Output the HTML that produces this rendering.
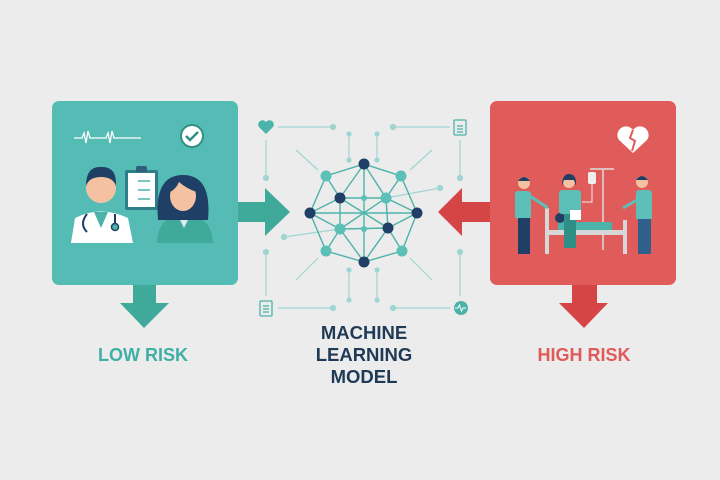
<!DOCTYPE html>
<html><head><meta charset="utf-8"><style>
html,body{margin:0;padding:0;background:#ececec;}
svg{display:block}
text{font-family:"Liberation Sans",sans-serif;font-weight:bold;}
</style></head><body>
<svg width="720" height="480" viewBox="0 0 720 480" xmlns="http://www.w3.org/2000/svg">
<rect width="720" height="480" fill="#ececec"/>
<!-- circuit lines -->
<g stroke="#9fd6d2" stroke-width="1.2" fill="#9fd6d2">
<line x1="278" y1="127" x2="333" y2="127"/><circle cx="333" cy="127" r="2.5"/>
<line x1="393" y1="127" x2="450" y2="127"/><circle cx="393" cy="127" r="2.5"/>
<line x1="349" y1="134" x2="349" y2="160"/><circle cx="349" cy="134" r="2"/><circle cx="349" cy="160" r="2"/>
<line x1="377" y1="134" x2="377" y2="160"/><circle cx="377" cy="134" r="2"/><circle cx="377" cy="160" r="2"/>
<line x1="266" y1="140" x2="266" y2="178"/><circle cx="266" cy="178" r="2.5"/>
<line x1="460" y1="140" x2="460" y2="178"/><circle cx="460" cy="178" r="2.5"/>
<line x1="266" y1="252" x2="266" y2="296"/><circle cx="266" cy="252" r="2.5"/>
<line x1="460" y1="252" x2="460" y2="296"/><circle cx="460" cy="252" r="2.5"/>
<line x1="278" y1="308" x2="333" y2="308"/><circle cx="333" cy="308" r="2.5"/>
<line x1="393" y1="308" x2="450" y2="308"/><circle cx="393" cy="308" r="2.5"/>
<line x1="349" y1="268" x2="349" y2="300"/><circle cx="349" cy="270" r="2"/><circle cx="349" cy="300" r="2"/>
<line x1="377" y1="268" x2="377" y2="300"/><circle cx="377" cy="270" r="2"/><circle cx="377" cy="300" r="2"/>
<line x1="296" y1="150" x2="318" y2="170"/><line x1="432" y1="150" x2="410" y2="170"/>
<line x1="296" y1="280" x2="318" y2="258"/><line x1="432" y1="280" x2="410" y2="258"/>
<line x1="386" y1="198" x2="440" y2="188"/><circle cx="440" cy="188" r="2.5"/>
<line x1="340" y1="229" x2="284" y2="237"/><circle cx="284" cy="237" r="2.5"/>
</g>
<!-- icons around network -->
<path d="M266 134 l-7 -7 a4 4 0 0 1 7 -5 a4 4 0 0 1 7 5z" fill="#4cb3aa"/>
<g fill="none" stroke="#4cb3aa" stroke-width="1.3">
<rect x="454" y="120" width="12" height="15" rx="1"/><line x1="457" y1="126" x2="463" y2="126"/><line x1="457" y1="129" x2="463" y2="129"/><line x1="457" y1="132" x2="463" y2="132"/>
<rect x="260" y="301" width="12" height="15" rx="1"/><line x1="263" y1="306" x2="269" y2="306"/><line x1="263" y1="309" x2="269" y2="309"/><line x1="263" y1="312" x2="269" y2="312"/>
</g>
<circle cx="461" cy="308" r="7" fill="#4cb3aa"/><path d="M455 308 h3 l1.5 -3 l2 6 l1.5 -3 h3" stroke="#fff" stroke-width="1" fill="none"/>
<!-- network -->
<g stroke="#4cb3aa" stroke-width="1.4">
<polygon points="364,164 401,176 417,213 402,251 364,262 326,251 310,213 326,176" fill="none"/>
<line x1="364" y1="164" x2="364" y2="262"/><line x1="310" y1="213" x2="417" y2="213"/>
<line x1="340" y1="198" x2="386" y2="198"/><line x1="340" y1="229" x2="388" y2="228"/>
<line x1="340" y1="198" x2="340" y2="229"/><line x1="386" y1="198" x2="388" y2="228"/>
<line x1="340" y1="198" x2="388" y2="228"/><line x1="386" y1="198" x2="340" y2="229"/>
<line x1="364" y1="164" x2="340" y2="198"/><line x1="364" y1="164" x2="386" y2="198"/>
<line x1="364" y1="262" x2="340" y2="229"/><line x1="364" y1="262" x2="388" y2="228"/>
<line x1="310" y1="213" x2="340" y2="198"/><line x1="310" y1="213" x2="340" y2="229"/>
<line x1="417" y1="213" x2="386" y2="198"/><line x1="417" y1="213" x2="388" y2="228"/>
<line x1="326" y1="176" x2="340" y2="198"/><line x1="401" y1="176" x2="386" y2="198"/>
<line x1="326" y1="251" x2="340" y2="229"/><line x1="402" y1="251" x2="388" y2="228"/>
</g>
<g fill="#1f3f66">
<circle cx="364" cy="164" r="5.5"/><circle cx="364" cy="262" r="5.5"/><circle cx="310" cy="213" r="5.5"/><circle cx="417" cy="213" r="5.5"/><circle cx="340" cy="198" r="5.5"/><circle cx="388" cy="228" r="5.5"/>
</g>
<g fill="#5cc0b8">
<circle cx="326" cy="176" r="5.5"/><circle cx="401" cy="176" r="5.5"/><circle cx="326" cy="251" r="5.5"/><circle cx="402" cy="251" r="5.5"/><circle cx="386" cy="198" r="5.5"/><circle cx="340" cy="229" r="5.5"/><circle cx="364" cy="198" r="3"/><circle cx="364" cy="229" r="3"/>
</g>
<!-- arrows -->
<polygon points="237,202 265,202 265,188 290,212 265,236 265,222 237,222" fill="#3fa99a"/>
<polygon points="133,285 156,285 156,303 169,303 144,328 120,303 133,303" fill="#3fa99a"/>
<polygon points="490,202 462,202 462,188 438,212 462,236 462,222 490,222" fill="#d64545"/>
<polygon points="572,285 597,285 597,303 608,303 584,328 559,303 572,303" fill="#d64545"/>
<!-- left box -->
<rect x="52" y="101" width="186" height="184" rx="7" fill="#55bcb5"/>
<path d="M74 138 h8 l2 -5 l2 10 l2 -12 l2 7 h16 l2 -5 l2 10 l2 -12 l2 7 h27" stroke="#fff" stroke-width="1.3" fill="none"/>
<circle cx="192" cy="136" r="12" fill="#2f8f86"/><circle cx="192" cy="136" r="10" fill="#fff"/>
<path d="M186 136 l4 4 l8 -8" stroke="#2f8f86" stroke-width="2.5" fill="none"/>
<rect x="125" y="170" width="33" height="40" rx="2" fill="#2f7f8a"/><rect x="128" y="173" width="27" height="34" fill="#fff"/>
<rect x="136" y="166" width="11" height="6" rx="2" fill="#2f5f7a"/>
<g stroke="#4cb3aa" stroke-width="1.5"><line x1="138" y1="181" x2="150" y2="181"/><line x1="138" y1="190" x2="150" y2="190"/><line x1="138" y1="199" x2="150" y2="199"/></g>
<path d="M71 243 L75 218 Q101 205 128 218 L133 243Z" fill="#fff"/>
<path d="M94 212 L101 228 L108 212Z" fill="#4cb3aa"/>
<path d="M87 214 q-8 10 0 18 M115 214 v10" stroke="#1f3f66" stroke-width="2" fill="none"/><circle cx="115" cy="227" r="3.5" fill="#4cb3aa" stroke="#1f3f66" stroke-width="1.5"/>
<circle cx="101" cy="188" r="15" fill="#f4c2a1"/>
<path d="M86 186 q0 -20 15 -19 q16 -1 15 19 q-3 -9 -15 -9 q-12 0 -15 9z" fill="#1f3f66"/>
<path d="M157 243 Q158 216 184 213 Q212 216 213 243Z" fill="#3fa99a"/>
<path d="M177 214 L184 228 L191 214Z" fill="#d8efee"/>
<path d="M158 220 q-4 -45 25 -45 q29 0 25 45z" fill="#1f3f66"/>
<ellipse cx="183" cy="196" rx="13" ry="15" fill="#f4c2a1"/>
<path d="M170 192 q2 -14 13 -14 q12 0 14 14 q-10 -3 -18 -10 q-3 7 -9 10z" fill="#1f3f66"/>
<!-- right box -->
<rect x="490" y="101" width="186" height="184" rx="7" fill="#e05c5a"/>
<path d="M633 153 l-14 -13 a8 8 0 0 1 14 -10 a8 8 0 0 1 14 10z" fill="#fff"/>
<path d="M633 130 l-3 8 l5 3 l-3 10" stroke="#e05c5a" stroke-width="2" fill="none"/>
<line x1="596" y1="168" x2="604" y2="255" stroke="#ddd" stroke-width="0"/>
<line x1="603" y1="170" x2="603" y2="250" stroke="#ddd" stroke-width="1.5"/><line x1="590" y1="169" x2="614" y2="169" stroke="#ddd" stroke-width="1.5"/>
<rect x="588" y="172" width="8" height="12" rx="2" fill="#eee"/>
<path d="M592 184 v18 h-10" stroke="#eee" stroke-width="1" fill="none"/>
<rect x="546" y="230" width="78" height="5" fill="#d7d7d7"/>
<rect x="545" y="208" width="4" height="46" fill="#d7d7d7"/><rect x="623" y="220" width="4" height="34" fill="#d7d7d7"/>
<rect x="558" y="222" width="54" height="8" fill="#4cb3aa"/><circle cx="560" cy="218" r="5" fill="#1f3f66"/>
<rect x="515" y="191" width="16" height="28" rx="3" fill="#5cc0b8"/><rect x="518" y="218" width="12" height="36" fill="#1f3f66"/><circle cx="524" cy="183" r="6" fill="#f4c2a1"/><path d="M518 181 q6 -8 12 0z" fill="#1f3f66"/>
<line x1="530" y1="196" x2="548" y2="208" stroke="#5cc0b8" stroke-width="3"/>
<rect x="559" y="190" width="22" height="24" rx="3" fill="#5cc0b8"/><rect x="564" y="214" width="12" height="34" fill="#2f8f86"/><circle cx="569" cy="182" r="6" fill="#f4c2a1"/><path d="M562 186 q0 -12 7 -12 q8 0 7 12 l-2 -6 h-10z" fill="#1f3f66"/>
<rect x="570" y="210" width="11" height="10" fill="#fff"/>
<rect x="636" y="190" width="16" height="30" rx="3" fill="#5cc0b8"/><rect x="638" y="219" width="13" height="35" fill="#2f5f8a"/><circle cx="642" cy="182" r="6" fill="#f4c2a1"/><path d="M636 180 q6 -8 12 0z" fill="#1f3f66"/>
<line x1="637" y1="200" x2="623" y2="208" stroke="#5cc0b8" stroke-width="3"/>
<!-- labels -->
<text x="143" y="361" font-size="18" fill="#3fb0a5" text-anchor="middle">LOW RISK</text>
<text x="584" y="361" font-size="18" fill="#e05a5a" text-anchor="middle">HIGH RISK</text>
<g font-size="18.5" fill="#1f3a56" text-anchor="middle">
<text x="364" y="339">MACHINE</text><text x="364" y="361">LEARNING</text><text x="364" y="383">MODEL</text>
</g>
</svg>
</body></html>
